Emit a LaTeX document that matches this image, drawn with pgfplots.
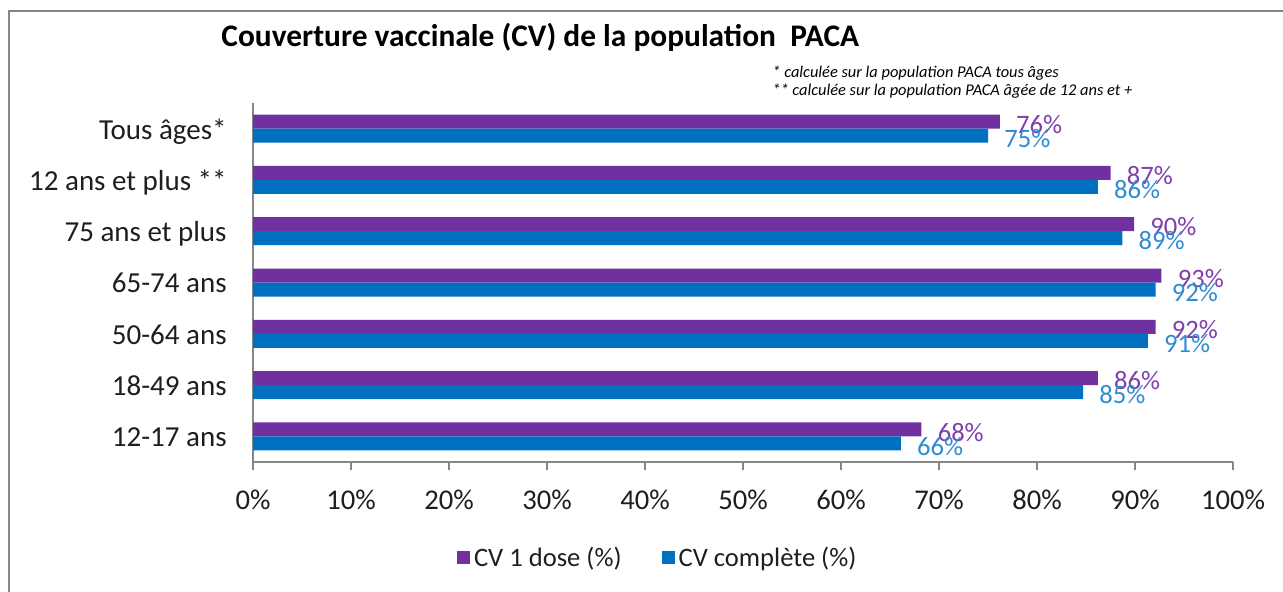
\documentclass[border=0pt]{standalone}
\usepackage{pgfplots}
\pgfplotsset{compat=1.18}
\usepackage{fontspec}
\setmainfont{Carlito}
\definecolor{cvp}{RGB}{112,48,160}
\definecolor{cvb}{RGB}{0,112,192}
\definecolor{lblp}{RGB}{128,64,172}
\definecolor{lblb}{RGB}{46,140,210}
\definecolor{axgray}{RGB}{134,134,134}
\definecolor{txt}{RGB}{30,30,30}
\begin{document}
\begin{tikzpicture}
\useasboundingbox (0,0) rectangle (641.5pt,-296pt);
\draw[axgray, line width=1.2pt] (4.5pt,-300pt) -- (4.5pt,-5.5pt) -- (645pt,-5.5pt);
\node[anchor=west, inner sep=0pt, font=\fontsize{15.7}{17}\selectfont\bfseries, text=black] at (110.5pt,-18.5pt) {Couverture vaccinale (CV) de la population\ \ PACA};
\node[anchor=west, inner sep=0pt, font=\fontsize{8.2}{9}\selectfont\itshape, text=black] at (386pt,-36.5pt) {* calculée sur la population PACA tous âges};
\node[anchor=west, inner sep=0pt, font=\fontsize{8.2}{9}\selectfont\itshape, text=black] at (386pt,-45.5pt) {** calculée sur la population PACA âgée de 12 ans et +};
\begin{axis}[
  at={(126.5pt,-231pt)}, anchor=south west,
  scale only axis, width=490pt, height=179.5pt,
  xmin=0, xmax=100, ymin=-0.5, ymax=6.5,
  axis x line*=bottom, axis y line*=left,
  axis line style={axgray, line width=0.8pt},
  every tick/.style={axgray, line width=0.8pt},
  tick align=outside,
  /pgf/number format/assume math mode=true,
  xtick={0,10,...,100},
  xticklabel={\pgfmathprintnumber[fixed,precision=0]{\tick}\%},
  major tick length=4pt,
  minor tick length=4pt,
  xticklabel style={anchor=north, inner sep=0pt, yshift=-10pt, font=\fontsize{14.3}{16}\selectfont, text=txt},
  ytick={0,1,2,3,4,5,6},
  yticklabels={12-17 ans,18-49 ans,50-64 ans,65-74 ans,75 ans et plus,12 ans et plus **,Tous âges*},
  y tick style={draw=none},
  minor ytick={-0.5,0.5,...,6.5},
  minor y tick style={axgray, line width=0.8pt},
  yticklabel style={anchor=base east, inner sep=0pt, xshift=-9pt, yshift=-5.2pt, font=\fontsize{14.5}{16}\selectfont, text=txt},
  xbar, bar width=7pt,
  point meta=explicit symbolic,
  nodes near coords={\pgfplotspointmeta\%},
  every node near coord/.append style={anchor=west, inner sep=0pt, xshift=8pt, yshift=-1.4pt, font=\fontsize{13.3}{15}\selectfont},
  legend style={at={(0.414,-0.2674)}, anchor=center, draw=none, fill=none, legend columns=2,
    font=\fontsize{13.3}{15}\selectfont, text=txt,
    /tikz/every even column/.append style={column sep=18pt},
    /tikz/every odd column/.append style={column sep=0pt}},
  legend image code/.code={\path[#1] (0pt,-3.25pt) rectangle (6.5pt,3.25pt);},
  legend cell align=left,
]
\addplot[fill=cvp, draw=none, bar shift=3.5pt, every node near coord/.append style={text=lblp}] coordinates {
(68.2,0) [68] (86.2,1) [86] (92.1,2) [92] (92.7,3) [93] (89.9,4) [90] (87.5,5) [87] (76.2,6) [76]};
\addplot[fill=cvb, draw=none, bar shift=-3.5pt, every node near coord/.append style={text=lblb}] coordinates {
(66.1,0) [66] (84.7,1) [85] (91.3,2) [91] (92.1,3) [92] (88.7,4) [89] (86.2,5) [86] (75.0,6) [75]};
\legend{CV 1 dose (\%),CV complète (\%)}
\end{axis}
\end{tikzpicture}
\end{document}
